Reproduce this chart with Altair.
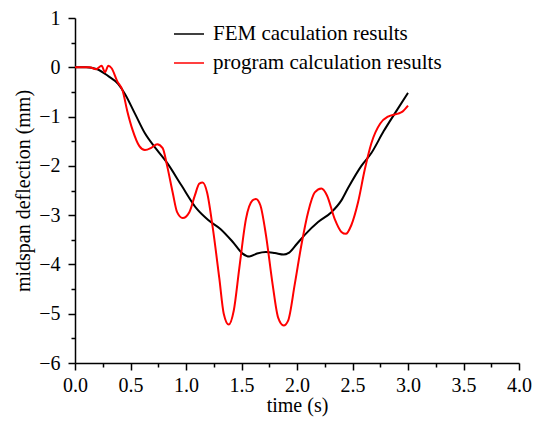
import altair as alt
import pandas as pd

# FEM caculation results
fem_t = [0, 0.1, 0.2, 0.3, 0.39, 0.45, 0.54, 0.63, 0.74, 0.83, 0.96, 1.1, 1.2, 1.31, 1.42,
         1.51, 1.57, 1.64, 1.72, 1.8, 1.88, 1.93, 2.0, 2.07, 2.19, 2.31, 2.4, 2.46, 2.58,
         2.67, 2.78, 2.88, 3.0]
fem_d = [0, 0, -0.04, -0.18, -0.34, -0.54, -0.94, -1.34, -1.68, -1.94, -2.4, -2.88, -3.1,
         -3.28, -3.54, -3.78, -3.84, -3.78, -3.75, -3.77, -3.8, -3.76, -3.58, -3.4, -3.14,
         -2.94, -2.7, -2.45, -2.0, -1.74, -1.3, -0.94, -0.52]

# program calculation results
prg_t = [0, 0.13, 0.19, 0.24, 0.27, 0.3, 0.33, 0.38, 0.43, 0.47, 0.52, 0.58, 0.63, 0.69,
         0.74, 0.79, 0.83, 0.88, 0.92, 0.97, 1.03, 1.08, 1.12, 1.15, 1.19, 1.24, 1.30, 1.34,
         1.385, 1.43, 1.48, 1.54, 1.60, 1.63, 1.67, 1.72, 1.78, 1.83, 1.88, 1.92, 1.98, 2.04,
         2.10, 2.16, 2.22, 2.27, 2.34, 2.40, 2.44, 2.49, 2.55, 2.61, 2.67, 2.75, 2.82, 2.91,
         2.95, 3.0]
prg_d = [0, 0, -0.04, 0.03, -0.1, 0.03, -0.02, -0.28, -0.48, -0.88, -1.28, -1.6, -1.68,
         -1.63, -1.56, -1.64, -2.0, -2.54, -2.94, -3.06, -2.94, -2.6, -2.36, -2.34, -2.54,
         -3.24, -4.28, -5.0, -5.22, -4.94, -4.08, -3.08, -2.7, -2.67, -2.8, -3.4, -4.4,
         -5.08, -5.24, -5.14, -4.4, -3.6, -2.94, -2.54, -2.46, -2.6, -3.08, -3.34, -3.38,
         -3.2, -2.74, -2.08, -1.54, -1.14, -1.0, -0.94, -0.9, -0.78]

series = ["FEM caculation results", "program calculation results"]
colors = ["black", "red"]

x_ticks = [i * 0.25 for i in range(17)]
y_ticks = [-6 + i * 0.5 for i in range(15)]

df = pd.concat([
    pd.DataFrame({"t": fem_t, "d": fem_d, "s": series[0]}),
    pd.DataFrame({"t": prg_t, "d": prg_d, "s": series[1]}),
])

FONT = "Liberation Serif"

chart = alt.Chart(df).mark_line(strokeWidth=2, interpolate="monotone").encode(
    x=alt.X("t:Q", title="time (s)",
            scale=alt.Scale(domain=[0, 4], nice=False, zero=False),
            axis=alt.Axis(values=x_ticks, format=".1f",
                          labelExpr="(datum.value*2) % 1 === 0 ? datum.label : ''",
                          tickSize={"condition": {"test": "(datum.value*2) % 1 === 0", "value": 7}, "value": 4},
                          labelOverlap=False, labelFlush=False, grid=False,
                          labelPadding=5, titlePadding=0)),
    y=alt.Y("d:Q", title="midspan deflection (mm)",
            scale=alt.Scale(domain=[-6, 1], nice=False, zero=False),
            axis=alt.Axis(values=y_ticks, format=".0f",
                          labelExpr="datum.value % 1 === 0 ? datum.label : ''",
                          tickSize={"condition": {"test": "datum.value % 1 === 0", "value": 7}, "value": 4},
                          labelOverlap=False, grid=False, labelPadding=8, titlePadding=5)),
    color=alt.Color("s:N", scale=alt.Scale(domain=series, range=colors),
                    legend=alt.Legend(title=None, orient="none", legendX=98, legendY=0,
                                      symbolType="stroke", symbolSize=900, symbolStrokeWidth=1.5,
                                      labelFont=FONT, labelFontSize=21, labelOffset=8,
                                      labelLimit=0, rowPadding=3, padding=0,
                                      labelColor="black")),
    order="t:Q",
    detail="s:N",
).properties(
    width=444, height=345,
    autosize=alt.AutoSizeParams(type="none"),
    padding={"left": 67, "top": 10, "right": 13, "bottom": 54},
).configure_view(stroke=None).configure_axis(
    labelFont=FONT, titleFont=FONT, labelFontSize=20, titleFontSize=20,
    labelColor="black", titleColor="black", titleFontWeight="normal",
    domainColor="black", tickColor="black", domainWidth=1.5, tickWidth=1.5,
)

chart.save("out.html", embed_options={"renderer": "svg", "actions": False})
